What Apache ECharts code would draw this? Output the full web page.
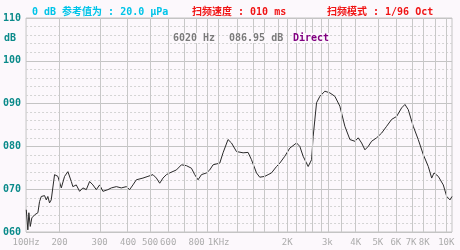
<!DOCTYPE html>
<html>
<head>
<meta charset="utf-8">
<script src="https://cdn.jsdelivr.net/npm/echarts@6/dist/echarts.min.js"></script>
<style>
html,body{margin:0;padding:0;background:#fcf8fc;}
#c{width:460px;height:250px;}
</style>
</head>
<body>
<div id="c"></div>
<script>
// Frequency (Hz) and level (dB)
const freqHz = [142.8,145.1,146.6,148.7,151.1,155.3,160.6,163.3,166.2,171.8,
  174.8,177.6,180.7,183.8,190.1,196.6,203.5,210.4,217.6,225.2,
  228.8,236.8,244.9,253.2,262.1,271.0,280.2,290.0,300,310.1,
  326.2,337.6,355.1,373.5,392.9,406.2,420.1,434.8,464.9,489.0,
  514.4,532.4,550.6,569.3,589.3,609.3,652.0,686.0,721.6,759.1,
  784.9,811.6,840.0,883.6,913.5,944.6,1011,1045,1099,1138,
  1197,1280,1346,1393,1466,1515,1594,1648,1706,1795,
  1856,1952,2053,2198,2272,2349,2472,2559,2600,2691,
  2783,2927,3079,3239,3406,3583,3771,3966,4101,4245,
  4389,4538,4697,4939,5195,5466,5750,6047,6363,6579,
  6802,7156,7527,7918,8332,8624,8828,9218,9697,10040,
  10377,10590];
const levelDb = [65.2,60.5,64.5,61.3,63.3,64.0,64.5,67.1,68.3,68.5,
  67.5,68.3,66.8,67.5,73.4,73.0,70.3,73.0,74.1,71.8,
  70.6,71.0,69.5,70.3,69.9,71.8,71.0,69.9,71.0,69.5,
  69.9,70.3,70.6,70.3,70.6,69.9,71.0,72.2,72.6,73.0,
  73.4,72.6,71.4,72.6,73.4,73.8,74.5,75.7,75.5,74.9,
  73.4,72.2,73.4,73.8,74.5,75.7,76.1,78.5,81.6,80.8,
  78.8,78.5,78.6,76.9,73.8,72.8,73.0,73.4,73.8,75.3,
  76.1,77.7,79.6,80.8,80.0,77.7,75.3,76.9,82.3,90.2,
  91.7,92.9,92.5,91.7,89.4,84.7,81.6,81.2,82.0,80.8,
  79.2,80.0,81.2,82.0,83.1,84.7,86.3,87.0,89.0,89.8,
  88.6,84.7,81.6,78.1,75.3,72.6,73.8,73.0,71.0,68.3,
  67.5,68.3];

// Axis range and tick labels
const freqMin = 142.5, freqMax = 10590;
const gridHz = [200,300,400,500,600,700,800,900,1000,1200,1400,1600,1800,2000,2200,2400,2600,2800,3000,3500,4000,5000,6000,7000,8000,9000,10000];
const tickHz = [142.5,200,300,400,500,600,800,1000,2000,3000,4000,5000,6000,7000,8000,10000];
const tickText = ['100Hz','200','300','400','500','600','800','1KHz','2K','3k','4K','5K','6K','7K','8K','10K'];
const yMin = 60, yMax = 110, yStep = 10;

const lg = Math.log10;
const tickLog = tickHz.map(lg);

const chart = echarts.init(document.getElementById('c'), null, {renderer:'canvas'});
const txt = (x, y, text, fill) => ({
  type:'text', x:x, y:y, z:100, zlevel:0,
  style:{text:text, fill:fill, fontFamily:'DejaVu Sans Mono, Noto Sans CJK SC', fontSize:10, fontWeight:'bold', verticalAlign:'middle', backgroundColor:'#fcf8fc'}
});
chart.setOption({
  backgroundColor: '#fcf8fc',
  animation: false,
  grid: {left:26, right:8, top:18, bottom:18, show:true, borderColor:'#c4c4c4', borderWidth:1, backgroundColor:'transparent'},
  xAxis: {
    type:'value', min: lg(freqMin), max: lg(freqMax),
    axisLine:{show:false}, axisTick:{show:false}, splitLine:{show:false},
    axisLabel:{
      customValues: tickLog,
      showMinLabel:true, showMaxLabel:true, hideOverlap:false,
      margin:6, color:'#acacac', fontFamily:'DejaVu Sans Mono', fontSize:9,
      formatter: function(v){
        let best=0, d=1e9;
        tickLog.forEach((t,i)=>{ if(Math.abs(t-v)<d){d=Math.abs(t-v);best=i;} });
        return tickText[best];
      }
    }
  },
  yAxis: {
    type:'value', min:yMin, max:yMax, interval:yStep,
    axisLine:{show:false}, axisTick:{show:false},
    splitLine:{show:true, lineStyle:{color:'#c4c4c4', width:1}},
    minorTick:{show:false, splitNumber:5},
    minorSplitLine:{show:true, lineStyle:{color:'#d4d4d4', type:[2,2], width:1}},
    axisLabel:{
      margin:5, color:'#0a8a8a', fontFamily:'DejaVu Sans Mono', fontWeight:'bold', fontSize:10,
      formatter: v => String(v).padStart(3,'0')
    }
  },
  series: [
    {
      type:'line', data:[], silent:true, z:1,
      markLine:{
        silent:true, symbol:['none','none'], label:{show:false},
        lineStyle:{color:'#c8c8c8', width:1, type:'solid'},
        emphasis:{disabled:true},
        data: gridHz.map(f => ({xAxis: lg(f)}))
      }
    },
    {
      type:'line', z:3, showSymbol:false, symbol:'none',
      lineStyle:{color:'#2a2a2a', width:1},
      data: freqHz.map((f,i)=>[lg(f), levelDb[i]])
    }
  ],
  graphic: [
    txt(32, 12, '0 dB 参考值为 : 20.0 μPa', '#00c4e8'),
    txt(192, 12, '扫频速度 : 010 ms', '#f01414'),
    txt(327, 12, '扫频模式 : 1/96 Oct', '#f01414'),
    txt(4, 38, 'dB', '#0a8a8a'),
    txt(173, 38, '6020 Hz', '#7a7a7a'),
    txt(229, 38, '086.95 dB', '#7a7a7a'),
    txt(293, 38, 'Direct', '#800080')
  ]
});
</script>
</body>
</html>
